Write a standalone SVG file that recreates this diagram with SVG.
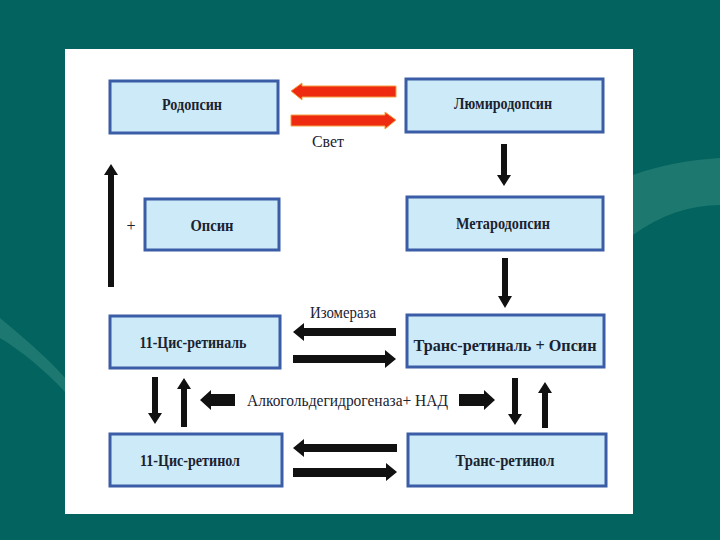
<svg xmlns="http://www.w3.org/2000/svg" width="720" height="540" viewBox="0 0 720 540">
<style>
.box{fill:#cdeaf8;stroke:#3b5ca6;stroke-width:3}
.lbl{font-family:"Liberation Serif","DejaVu Serif",serif;font-weight:bold;font-size:17px;fill:#1a2230;text-anchor:middle;dominant-baseline:central}
.note{font-family:"Liberation Serif","DejaVu Serif",serif;font-size:16px;fill:#1a2230;text-anchor:middle;dominant-baseline:central}
.blk{fill:#111111}
.red{fill:#ee2a10;stroke:#f6a040;stroke-width:1}
</style>
<rect x="0" y="0" width="720" height="540" fill="#03645f"/>
<path d="M633,175 C660,165 690,160 720,158 L720,205 C690,205 660,215 633,235 Z" fill="#2a8078" opacity="0.7"/>
<path d="M0,318 C20,335 45,355 65,378 L65,392 C45,370 20,350 0,338 Z" fill="#2e857d" opacity="0.6"/>
<rect x="65" y="49" width="568" height="465" fill="#ffffff"/>
<g id="connectors">
<polygon class="red" points="291,91 302,83 302,86 396,86 396,97 302,97 302,100"/>
<polygon class="red" points="396,120 385,112 385,115 291,115 291,126 385,126 385,129"/>
<polygon class="blk" points="501,144 507,144 507,175 511,175 504,186 497,175 501,175"/>
<polygon class="blk" points="502,258 508,258 508,296 512,296 505,308 498,296 502,296"/>
<polygon class="blk" points="108,287 114,287 114,175 118,175 111,164 104,175 108,175"/>
<polygon class="blk" points="293,332 304,323 304,328 396,328 396,336 304,336 304,341"/>
<polygon class="blk" points="396,359 385,350 385,355 293,355 293,363 385,363 385,368"/>
<polygon class="blk" points="152,377 158,377 158,413 162,413 155,424 148,413 152,413"/>
<polygon class="blk" points="181,427 187,427 187,389 191,389 184,378 177,389 181,389"/>
<polygon class="blk" points="200,400 211,390 211,394 235,394 235,406 211,406 211,410"/>
<polygon class="blk" points="495,400 484,390 484,394 459,394 459,406 484,406 484,410"/>
<polygon class="blk" points="512,378 518,378 518,414 522,414 515,425 508,414 512,414"/>
<polygon class="blk" points="542,428 548,428 548,393 552,393 545,382 538,393 542,393"/>
<polygon class="blk" points="293,448 304,439 304,444 397,444 397,452 304,452 304,457"/>
<polygon class="blk" points="397,472 386,463 386,468 293,468 293,477 386,477 386,481"/>
<text class="note" x="328" y="141" textLength="32" lengthAdjust="spacingAndGlyphs">Свет</text>
<text class="note" x="343" y="312" textLength="66" lengthAdjust="spacingAndGlyphs">Изомераза</text>
<text class="note" x="347.5" y="400" textLength="201" lengthAdjust="spacingAndGlyphs" font-size="18">Алкогольдегидрогеназа+ НАД</text>
<text class="note" x="131" y="225">+</text>
</g>
<g id="rhodopsin"><rect class="box" x="110" y="81" width="168" height="52"/><text class="lbl" x="192" y="104" textLength="60" lengthAdjust="spacingAndGlyphs">Родопсин</text></g>
<g id="lumirhodopsin"><rect class="box" x="406" y="79" width="197" height="53"/><text class="lbl" x="503" y="103" textLength="98" lengthAdjust="spacingAndGlyphs">Люмиродопсин</text></g>
<g id="opsin"><rect class="box" x="145" y="199" width="134" height="51"/><text class="lbl" x="212" y="225" textLength="43" lengthAdjust="spacingAndGlyphs">Опсин</text></g>
<g id="metarhodopsin"><rect class="box" x="407" y="197" width="196" height="53"/><text class="lbl" x="503" y="223" textLength="94" lengthAdjust="spacingAndGlyphs">Метародопсин</text></g>
<g id="cis-retinal"><rect class="box" x="110" y="316" width="170" height="52"/><text class="lbl" x="193" y="342" textLength="107" lengthAdjust="spacingAndGlyphs">11-Цис-ретиналь</text></g>
<g id="trans-retinal"><rect class="box" x="407" y="315" width="197" height="52"/><text class="lbl" x="505" y="345" textLength="183" lengthAdjust="spacingAndGlyphs">Транс-ретиналь + Опсин</text></g>
<g id="cis-retinol"><rect class="box" x="110" y="434" width="172" height="52"/><text class="lbl" x="190" y="460" textLength="100" lengthAdjust="spacingAndGlyphs">11-Цис-ретинол</text></g>
<g id="trans-retinol"><rect class="box" x="408" y="434" width="198" height="52"/><text class="lbl" x="505" y="460" textLength="99" lengthAdjust="spacingAndGlyphs">Транс-ретинол</text></g>
</svg>
